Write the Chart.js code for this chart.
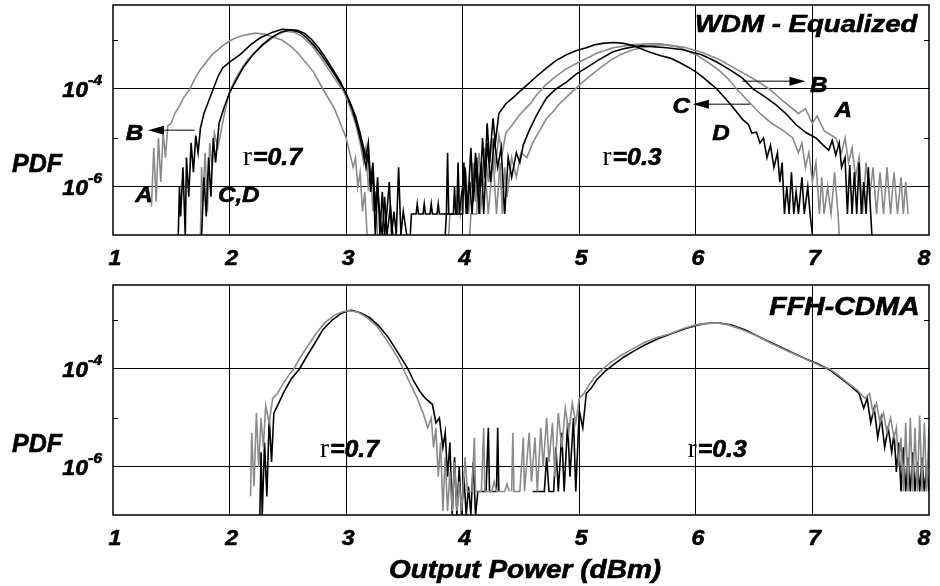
<!DOCTYPE html>
<html>
<head>
<meta charset="utf-8">
<script src="https://cdn.jsdelivr.net/npm/chart.js@4.4.1/dist/chart.umd.min.js"></script>
<style>
  html, body { margin: 0; padding: 0; background: #fff; }
  #wrap { position: relative; width: 940px; height: 586px; }
  canvas { position: absolute; left: 0; }
</style>
</head>
<body>
<div id="wrap">
  <canvas id="wdmChart" width="940" height="280" style="top:0"></canvas>
  <canvas id="ffhChart" width="940" height="306" style="top:280px"></canvas>
</div>
<script>
// [output power (dBm), log10 PDF]
const wdm07A = [[1.33,-6.4],[1.35,-5.2],[1.37,-6.3],[1.39,-5.0],[1.41,-5.9],[1.43,-4.9],[1.45,-5.4],[1.47,-4.75],[1.50,-4.7],[1.53,-4.5],[1.57,-4.35],[1.60,-4.2],[1.63,-4.1],[1.66,-4.0],[1.70,-3.8],[1.75,-3.6],[1.80,-3.45],[1.85,-3.3],[1.90,-3.2],[1.95,-3.1],[2.0,-3.02],[2.05,-2.96],[2.10,-2.92],[2.15,-2.89],[2.22,-2.86],[2.30,-2.88],[2.38,-2.95],[2.45,-3.0],[2.52,-3.12],[2.58,-3.25],[2.65,-3.45],[2.72,-3.65],[2.80,-4.0],[2.85,-4.2],[2.90,-4.4],[2.95,-4.7],[3.0,-5.0],[3.03,-5.3],[3.06,-5.6],[3.08,-5.4],[3.10,-6.0],[3.12,-5.7],[3.14,-6.5],[3.16,-6.1],[3.18,-6.98]];
const wdm07B = [[1.75,-6.98],[1.76,-5.6],[1.77,-6.3],[1.79,-5.3],[1.81,-6.5],[1.83,-5.1],[1.85,-5.6],[1.87,-4.9],[1.90,-5.2],[1.94,-4.7],[1.97,-4.35],[2.0,-4.05],[2.05,-3.8],[2.10,-3.6],[2.15,-3.42],[2.22,-3.25],[2.29,-3.1],[2.36,-2.97],[2.42,-2.88],[2.48,-2.82],[2.55,-2.84],[2.62,-2.92],[2.70,-3.1],[2.78,-3.35],[2.85,-3.6],[2.92,-3.85],[2.98,-4.05],[3.03,-4.35],[3.08,-4.7],[3.12,-5.1],[3.15,-5.5],[3.17,-5.2],[3.19,-6.0],[3.21,-5.7],[3.23,-6.5],[3.25,-6.1],[3.27,-6.98]];
const wdm07C = [[1.56,-6.98],[1.57,-6.0],[1.58,-6.6],[1.60,-5.6],[1.62,-6.98],[1.63,-5.4],[1.65,-6.2],[1.67,-5.1],[1.69,-5.7],[1.71,-4.95],[1.73,-5.3],[1.75,-4.8],[1.78,-4.5],[1.82,-4.25],[1.86,-4.0],[1.90,-3.75],[1.94,-3.57],[2.0,-3.45],[2.09,-3.3],[2.18,-3.1],[2.26,-2.96],[2.37,-2.84],[2.45,-2.78],[2.52,-2.79],[2.60,-2.84],[2.66,-2.95],[2.72,-3.1],[2.78,-3.28],[2.83,-3.45],[2.90,-3.7],[2.98,-4.0],[3.03,-4.25],[3.08,-4.55],[3.12,-4.9],[3.15,-5.2],[3.17,-5.4],[3.19,-5.1],[3.21,-5.9],[3.23,-5.5],[3.25,-6.5],[3.27,-5.8],[3.29,-6.98],[3.31,-6.1],[3.33,-6.98],[3.35,-6.5],[3.37,-5.9],[3.39,-6.98],[3.41,-6.5],[3.43,-6.98],[3.45,-5.6],[3.47,-6.98],[3.49,-6.5],[3.52,-6.98]];
const wdm07D = [[1.76,-6.98],[1.78,-5.8],[1.80,-6.6],[1.82,-5.4],[1.84,-6.2],[1.86,-5.0],[1.88,-5.5],[1.91,-4.7],[1.95,-4.4],[2.0,-4.08],[2.05,-3.85],[2.12,-3.55],[2.20,-3.3],[2.28,-3.1],[2.36,-2.95],[2.44,-2.84],[2.52,-2.79],[2.58,-2.8],[2.64,-2.86],[2.70,-2.98],[2.76,-3.15],[2.82,-3.35],[2.88,-3.58],[2.95,-3.85],[3.0,-4.1],[3.05,-4.4],[3.10,-4.8],[3.14,-5.2],[3.17,-5.6],[3.19,-5.3],[3.21,-6.1],[3.23,-5.7],[3.25,-6.98],[3.27,-6.0],[3.29,-6.6],[3.31,-6.98],[3.33,-6.2],[3.35,-6.98],[3.38,-6.4],[3.40,-6.98]];

const wdm03A = [[3.88,-6.98],[3.89,-6.55],[3.95,-6.55],[3.96,-5.6],[3.98,-6.55],[4.03,-5.8],[4.05,-6.55],[4.09,-5.5],[4.11,-6.3],[4.14,-5.3],[4.16,-6.0],[4.19,-5.2],[4.22,-5.9],[4.25,-5.0],[4.28,-5.6],[4.31,-4.95],[4.34,-5.3],[4.37,-4.9],[4.42,-4.75],[4.48,-4.55],[4.53,-4.42],[4.58,-4.3],[4.64,-4.1],[4.71,-3.92],[4.78,-3.78],[4.88,-3.6],[5.0,-3.45],[5.15,-3.27],[5.29,-3.16],[5.45,-3.1],[5.58,-3.08],[5.70,-3.08],[5.85,-3.15],[6.0,-3.3],[6.10,-3.45],[6.20,-3.62],[6.28,-3.8],[6.35,-4.0],[6.45,-4.25],[6.55,-4.5],[6.65,-4.7],[6.75,-4.85],[6.83,-5.0],[6.88,-5.3],[6.91,-5.1],[6.94,-5.6],[6.97,-5.3],[7.0,-5.9],[7.03,-5.5],[7.06,-6.55],[7.08,-5.8],[7.10,-6.55],[7.13,-6.0],[7.16,-6.55],[7.19,-5.7],[7.22,-6.55],[7.23,-6.98]];
const wdm03B = [[4.06,-6.98],[4.07,-6.55],[4.12,-6.55],[4.13,-5.7],[4.15,-6.55],[4.19,-5.6],[4.22,-6.55],[4.26,-5.4],[4.29,-6.55],[4.32,-5.5],[4.34,-6.55],[4.36,-5.6],[4.38,-6.2],[4.42,-5.4],[4.46,-5.8],[4.50,-5.3],[4.55,-5.4],[4.60,-5.1],[4.66,-4.85],[4.72,-4.6],[4.78,-4.45],[4.83,-4.3],[4.92,-4.1],[5.0,-3.92],[5.09,-3.74],[5.18,-3.57],[5.26,-3.43],[5.35,-3.3],[5.46,-3.2],[5.58,-3.14],[5.66,-3.1],[5.75,-3.1],[5.90,-3.15],[6.05,-3.25],[6.20,-3.4],[6.35,-3.6],[6.50,-3.8],[6.63,-4.0],[6.75,-4.25],[6.88,-4.5],[6.94,-4.4],[7.0,-4.7],[7.04,-4.55],[7.10,-4.85],[7.20,-5.0],[7.25,-5.3],[7.28,-5.0],[7.31,-5.5],[7.34,-5.2],[7.37,-5.8],[7.40,-5.4],[7.43,-6.55],[7.46,-5.5],[7.49,-6.2],[7.52,-5.6],[7.55,-6.55],[7.58,-5.7],[7.61,-6.55],[7.64,-5.6],[7.67,-6.55],[7.70,-5.7],[7.73,-6.55],[7.76,-5.8],[7.78,-6.55],[7.80,-5.9],[7.82,-6.55]];
const wdm03C = [[3.85,-6.98],[3.86,-6.55],[3.92,-6.55],[3.93,-6.0],[3.94,-6.55],[4.0,-6.55],[4.01,-5.5],[4.03,-6.55],[4.06,-5.9],[4.08,-6.55],[4.11,-5.3],[4.13,-6.2],[4.16,-5.5],[4.18,-6.55],[4.21,-5.1],[4.24,-5.9],[4.27,-5.0],[4.30,-5.6],[4.33,-5.2],[4.36,-6.55],[4.39,-5.4],[4.42,-5.8],[4.46,-5.3],[4.49,-5.5],[4.52,-5.14],[4.57,-4.85],[4.62,-4.6],[4.67,-4.38],[4.72,-4.18],[4.80,-4.0],[4.89,-3.86],[4.97,-3.7],[5.06,-3.57],[5.17,-3.4],[5.29,-3.24],[5.38,-3.18],[5.46,-3.14],[5.53,-3.12],[5.60,-3.13],[5.75,-3.16],[5.89,-3.2],[6.05,-3.3],[6.18,-3.45],[6.30,-3.62],[6.40,-3.78],[6.49,-4.0],[6.60,-4.17],[6.69,-4.33],[6.78,-4.52],[6.86,-4.73],[6.95,-4.9],[7.03,-5.0],[7.09,-5.14],[7.14,-5.25],[7.17,-5.05],[7.20,-5.35],[7.23,-5.1],[7.25,-5.6],[7.28,-5.4],[7.30,-6.55],[7.32,-5.55],[7.34,-6.55],[7.36,-5.7],[7.38,-6.55],[7.40,-5.5],[7.42,-6.55],[7.44,-5.9],[7.46,-6.55],[7.48,-5.6],[7.50,-6.55],[7.51,-6.98]];
const wdm03D = [[3.55,-6.98],[3.56,-6.55],[3.60,-6.55],[3.61,-6.35],[3.62,-6.55],[3.66,-6.55],[3.67,-6.35],[3.68,-6.55],[3.72,-6.55],[3.73,-6.35],[3.74,-6.55],[3.78,-6.55],[3.79,-6.35],[3.80,-6.55],[3.86,-6.55],[3.87,-5.3],[3.88,-6.55],[3.95,-6.55],[3.96,-5.5],[3.97,-6.55],[4.02,-5.6],[4.04,-6.55],[4.07,-5.2],[4.09,-6.3],[4.12,-5.4],[4.14,-6.55],[4.17,-5.0],[4.19,-5.8],[4.21,-4.7],[4.23,-5.5],[4.26,-4.6],[4.28,-5.1],[4.31,-4.5],[4.37,-4.3],[4.43,-4.18],[4.49,-4.05],[4.55,-3.92],[4.63,-3.75],[4.72,-3.57],[4.80,-3.42],[4.89,-3.3],[4.97,-3.22],[5.06,-3.16],[5.13,-3.1],[5.20,-3.07],[5.29,-3.05],[5.38,-3.07],[5.47,-3.12],[5.55,-3.2],[5.62,-3.26],[5.70,-3.32],[5.78,-3.37],[5.86,-3.46],[5.93,-3.55],[6.0,-3.65],[6.06,-3.76],[6.12,-3.88],[6.18,-4.0],[6.24,-4.16],[6.30,-4.32],[6.35,-4.47],[6.40,-4.62],[6.45,-4.72],[6.48,-4.9],[6.52,-4.88],[6.55,-5.1],[6.58,-5.0],[6.61,-5.4],[6.64,-5.15],[6.67,-5.6],[6.70,-5.3],[6.72,-5.9],[6.74,-5.5],[6.76,-6.55],[6.78,-6.0],[6.80,-6.55],[6.82,-5.7],[6.84,-6.55],[6.86,-6.1],[6.88,-6.55],[6.91,-5.8],[6.93,-6.55],[6.96,-6.0],[6.98,-6.55],[7.0,-6.98]];

const ffh07Gray = [[2.18,-6.6],[2.19,-5.3],[2.21,-6.4],[2.23,-4.9],[2.25,-6.0],[2.27,-5.0],[2.29,-5.6],[2.31,-4.75],[2.34,-5.1],[2.37,-4.6],[2.41,-4.5],[2.46,-4.3],[2.51,-4.12],[2.55,-4.0],[2.61,-3.75],[2.68,-3.5],[2.75,-3.25],[2.82,-3.05],[2.90,-2.9],[2.97,-2.83],[3.03,-2.81],[3.10,-2.84],[3.18,-2.95],[3.26,-3.12],[3.33,-3.35],[3.40,-3.6],[3.46,-3.85],[3.49,-4.0],[3.55,-4.3],[3.61,-4.6],[3.66,-4.9],[3.70,-5.2],[3.73,-5.0],[3.75,-5.6],[3.77,-5.2],[3.79,-6.2],[3.81,-5.5],[3.83,-6.9],[3.85,-5.8],[3.87,-6.9],[3.89,-6.1],[3.91,-6.9],[3.93,-5.9],[3.95,-6.9],[3.97,-6.3],[3.99,-6.9],[4.02,-5.8],[4.04,-6.5],[4.08,-6.5],[4.10,-5.4],[4.11,-6.5],[4.16,-6.5],[4.18,-5.2],[4.19,-6.5],[4.25,-6.5],[4.27,-6.3],[4.29,-6.5],[4.36,-6.5],[4.38,-6.35],[4.40,-6.5]];
const ffh07Black = [[2.26,-6.98],[2.27,-5.7],[2.28,-6.98],[2.30,-5.5],[2.32,-6.6],[2.34,-5.0],[2.36,-5.9],[2.38,-4.9],[2.42,-4.7],[2.47,-4.45],[2.53,-4.2],[2.60,-4.0],[2.66,-3.75],[2.73,-3.48],[2.80,-3.2],[2.88,-3.0],[2.96,-2.86],[3.04,-2.8],[3.12,-2.85],[3.20,-2.95],[3.28,-3.12],[3.36,-3.35],[3.44,-3.65],[3.50,-3.88],[3.53,-4.0],[3.58,-4.25],[3.63,-4.45],[3.68,-4.6],[3.74,-4.72],[3.77,-5.1],[3.80,-5.0],[3.83,-5.6],[3.85,-5.3],[3.87,-6.2],[3.89,-5.5],[3.91,-6.98],[3.93,-5.8],[3.95,-6.98],[3.97,-6.0],[3.99,-6.98],[4.01,-6.2],[4.03,-6.98],[4.05,-6.4],[4.07,-6.98],[4.09,-5.9],[4.11,-6.98],[4.13,-6.5],[4.20,-6.5],[4.22,-5.2],[4.23,-6.5],[4.29,-6.5],[4.30,-5.2],[4.31,-6.5]];
const ffh03Gray = [[4.42,-6.5],[4.43,-5.3],[4.44,-6.5],[4.49,-6.5],[4.52,-5.4],[4.53,-6.5],[4.57,-5.3],[4.59,-6.3],[4.62,-5.4],[4.64,-6.5],[4.67,-5.2],[4.69,-6.0],[4.72,-5.0],[4.74,-5.9],[4.77,-5.1],[4.79,-6.2],[4.82,-4.9],[4.85,-5.6],[4.88,-4.8],[4.91,-5.3],[4.94,-4.7],[4.97,-5.1],[5.0,-4.6],[5.04,-4.5],[5.09,-4.3],[5.14,-4.15],[5.2,-4.0],[5.28,-3.85],[5.36,-3.72],[5.45,-3.6],[5.55,-3.47],[5.65,-3.37],[5.78,-3.28],[5.9,-3.17],[6.0,-3.1],[6.1,-3.07],[6.18,-3.06],[6.28,-3.1],[6.4,-3.2],[6.52,-3.32],[6.65,-3.48],[6.8,-3.65],[6.9,-3.75],[7.0,-3.86],[7.08,-3.95],[7.15,-4.0],[7.22,-4.12],[7.3,-4.28],[7.38,-4.42],[7.45,-4.6],[7.49,-4.5],[7.52,-4.9],[7.55,-4.7],[7.58,-5.1],[7.61,-4.9],[7.64,-5.3],[7.67,-5.0],[7.70,-5.4],[7.72,-5.2],[7.74,-6.0],[7.76,-5.4],[7.78,-6.5],[7.80,-5.1],[7.82,-6.5],[7.84,-5.0],[7.86,-6.5],[7.88,-5.2],[7.90,-6.5],[7.92,-4.95],[7.94,-6.5],[7.96,-5.1],[7.98,-6.5],[8.0,-5.2]];
const ffh03Black = [[4.60,-6.5],[4.70,-6.5],[4.72,-5.8],[4.74,-6.5],[4.78,-6.5],[4.80,-5.6],[4.82,-6.5],[4.85,-5.3],[4.87,-6.5],[4.90,-5.1],[4.92,-6.2],[4.95,-5.0],[4.97,-6.5],[5.0,-4.85],[5.03,-5.2],[5.06,-4.5],[5.10,-4.4],[5.15,-4.22],[5.22,-4.05],[5.30,-3.9],[5.38,-3.76],[5.47,-3.63],[5.57,-3.5],[5.68,-3.38],[5.80,-3.27],[5.92,-3.17],[6.02,-3.1],[6.12,-3.06],[6.20,-3.06],[6.30,-3.1],[6.42,-3.2],[6.55,-3.35],[6.68,-3.5],[6.82,-3.66],[6.95,-3.8],[7.05,-3.9],[7.15,-4.02],[7.25,-4.2],[7.33,-4.35],[7.40,-4.5],[7.44,-4.8],[7.47,-4.6],[7.50,-5.1],[7.53,-4.8],[7.56,-5.4],[7.59,-5.0],[7.62,-5.6],[7.65,-5.2],[7.68,-5.7],[7.70,-5.3],[7.72,-6.1],[7.74,-5.5],[7.76,-6.5],[7.78,-5.6],[7.80,-6.5],[7.82,-5.8],[7.84,-6.5],[7.86,-5.7],[7.88,-6.5],[7.90,-5.9],[7.92,-6.5],[7.94,-5.8],[7.96,-6.5],[7.98,-6.0],[8.0,-6.5]];

const xTickLabels = ['1', '2', '3', '4', '5', '6', '7', '8'];
const xGridValues = [2, 3, 4, 5, 6, 7];
const yGridExponents = [-4, -6];
const yMinorExponents = [-3, -5];
const yMinExp = -6.98, yMaxExp = -2.286;

const GRAY = '#8a8a8a';
const SANS = '"Liberation Sans", Arial, sans-serif';
const SERIF = '"Liberation Serif", "Times New Roman", serif';

function toPoints(pairs) {
  return pairs.map(p => ({ x: p[0], y: Math.pow(10, p[1]) }));
}

function curve(pairs, color) {
  return { data: toPoints(pairs), borderColor: color, borderWidth: 1.6, pointRadius: 0, tension: 0, fill: false };
}

// bold italic text, optionally stretched sideways and slightly stroked to look heavier
function txt(ctx, str, x, y, size, align, hs, font) {
  ctx.save();
  ctx.font = font || ('italic bold ' + size + 'px ' + SANS);
  ctx.fillStyle = '#000';
  ctx.strokeStyle = '#000';
  ctx.lineWidth = font ? 0 : 0.6;
  ctx.textAlign = align || 'left';
  ctx.textBaseline = 'alphabetic';
  ctx.translate(x, y);
  ctx.scale(hs || 1, 1);
  ctx.fillText(str, 0, 0);
  if (!font) ctx.strokeText(str, 0, 0);
  ctx.restore();
}

function arrow(ctx, x1, x2, y) {
  const dir = x2 > x1 ? 1 : -1;
  ctx.save();
  ctx.strokeStyle = '#000';
  ctx.lineWidth = 1;
  ctx.beginPath();
  ctx.moveTo(x1, y);
  ctx.lineTo(x2 - dir * 14, y);
  ctx.stroke();
  ctx.beginPath();
  ctx.moveTo(x2, y);
  ctx.lineTo(x2 - dir * 16, y - 4.5);
  ctx.lineTo(x2 - dir * 16, y + 4.5);
  ctx.closePath();
  ctx.fillStyle = '#000';
  ctx.fill();
  ctx.restore();
}

const decor = {
  id: 'decor',
  afterDraw(chart, args, opts) {
    const ctx = chart.ctx;
    const a = chart.chartArea;
    const xs = chart.scales.x, ys = chart.scales.y;
    const X = v => xs.getPixelForValue(v);
    const Y = e => ys.getPixelForValue(Math.pow(10, e));

    // frame and minor ticks
    ctx.save();
    ctx.strokeStyle = '#000';
    ctx.lineWidth = 1.5;
    ctx.strokeRect(a.left, a.top, a.right - a.left, a.bottom - a.top);
    ctx.lineWidth = 1;
    yMinorExponents.forEach(e => {
      const y = Math.round(Y(e)) + 0.5;
      ctx.beginPath();
      ctx.moveTo(a.left, y); ctx.lineTo(a.left + 5, y);
      ctx.moveTo(a.right - 5, y); ctx.lineTo(a.right, y);
      ctx.stroke();
    });
    ctx.restore();

    // y tick labels 10^n
    yGridExponents.forEach(e => {
      const y = Y(e);
      txt(ctx, '10', 88, y + 8, 22, 'right', 1.05);
      txt(ctx, String(e), 88, y - 4, 15, 'left', 1.05);
    });
    // x tick labels
    xTickLabels.forEach(l => {
      let x = X(Number(l)) + 2;
      if (x > 924) x = 924;
      txt(ctx, l, x, a.bottom + 30, 22, 'center', 1.05);
    });
    // PDF
    txt(ctx, 'PDF', 12, a.top + 167, 25, 'left', 1.0);

    // notes in data coordinates
    (opts.notes || []).forEach(n => {
      if (n.rLabel) {
        ctx.save();
        ctx.font = '27px ' + SERIF;
        const w = ctx.measureText('r').width;
        ctx.restore();
        txt(ctx, 'r', X(n.x), Y(n.e), 27, 'left', 1, '27px ' + SERIF);
        txt(ctx, n.text, X(n.x) + w + 1, Y(n.e), 23, 'left', 1.08);
      } else {
        txt(ctx, n.text, X(n.x), Y(n.e), n.size, n.align || 'left', n.hs || 1.1);
      }
    });
    (opts.arrows || []).forEach(r => arrow(ctx, X(r.from), X(r.to), Y(r.e)));

    if (opts.xTitle) {
      txt(ctx, opts.xTitle, 525, chart.height - 8, 25, 'center', 1.12);
    }
  }
};

function makeChart(id, datasets, padBottom, decorOpts) {
  return new Chart(document.getElementById(id), {
    type: 'line',
    data: { datasets: datasets },
    options: {
      responsive: false,
      animation: false,
      devicePixelRatio: 1,
      layout: { padding: { left: 113, right: 11, top: 5, bottom: padBottom } },
      plugins: { legend: { display: false }, tooltip: { enabled: false }, decor: decorOpts },
      scales: {
        x: {
          type: 'linear', min: 1, max: 8,
          ticks: { display: false },
          grid: { color: '#000', lineWidth: 1, drawTicks: false },
          border: { display: false },
          afterBuildTicks: s => { s.ticks = xGridValues.map(v => ({ value: v })); }
        },
        y: {
          type: 'logarithmic', min: Math.pow(10, yMinExp), max: Math.pow(10, yMaxExp),
          ticks: { display: false },
          grid: { color: '#000', lineWidth: 1, drawTicks: false },
          border: { display: false },
          afterBuildTicks: s => { s.ticks = yGridExponents.map(e => ({ value: Math.pow(10, e) })); }
        }
      }
    },
    plugins: [decor]
  });
}

makeChart('wdmChart', [
  curve(wdm07C, '#000'), curve(wdm07D, '#000'),
  curve(wdm03C, '#000'), curve(wdm03D, '#000'),
  curve(wdm07A, GRAY), curve(wdm07B, GRAY),
  curve(wdm03A, GRAY), curve(wdm03B, GRAY)
], 45, {
  notes: [
    { text: 'WDM - Equalized', x: 7.90, e: -2.84, size: 24, align: 'right', hs: 1.15 },
    { text: 'B', x: 1.11, e: -5.04, size: 22 },
    { text: 'A', x: 1.19, e: -6.31, size: 22 },
    { text: 'C,D', x: 1.90, e: -6.31, size: 22 },
    { text: 'B', x: 6.98, e: -4.06, size: 22 },
    { text: 'A', x: 7.19, e: -4.57, size: 22 },
    { text: 'C', x: 5.80, e: -4.49, size: 22 },
    { text: 'D', x: 6.14, e: -5.04, size: 22 },
    { text: '=0.7', x: 2.115, e: -5.55, rLabel: true },
    { text: '=0.3', x: 5.20, e: -5.55, rLabel: true }
  ],
  arrows: [
    { from: 1.70, to: 1.30, e: -4.84 },
    { from: 6.40, to: 6.94, e: -3.84 },
    { from: 6.465, to: 5.975, e: -4.31 }
  ]
});

makeChart('ffhChart', [
  curve(ffh07Gray, GRAY), curve(ffh03Gray, GRAY),
  curve(ffh07Black, '#000'), curve(ffh03Black, '#000')
], 71, {
  notes: [
    { text: 'FFH-CDMA', x: 7.92, e: -2.90, size: 25, align: 'right', hs: 1.14 },
    { text: '=0.7', x: 2.776, e: -5.80, rLabel: true },
    { text: '=0.3', x: 5.93, e: -5.80, rLabel: true }
  ],
  xTitle: 'Output Power (dBm)'
});
</script>
</body>
</html>
